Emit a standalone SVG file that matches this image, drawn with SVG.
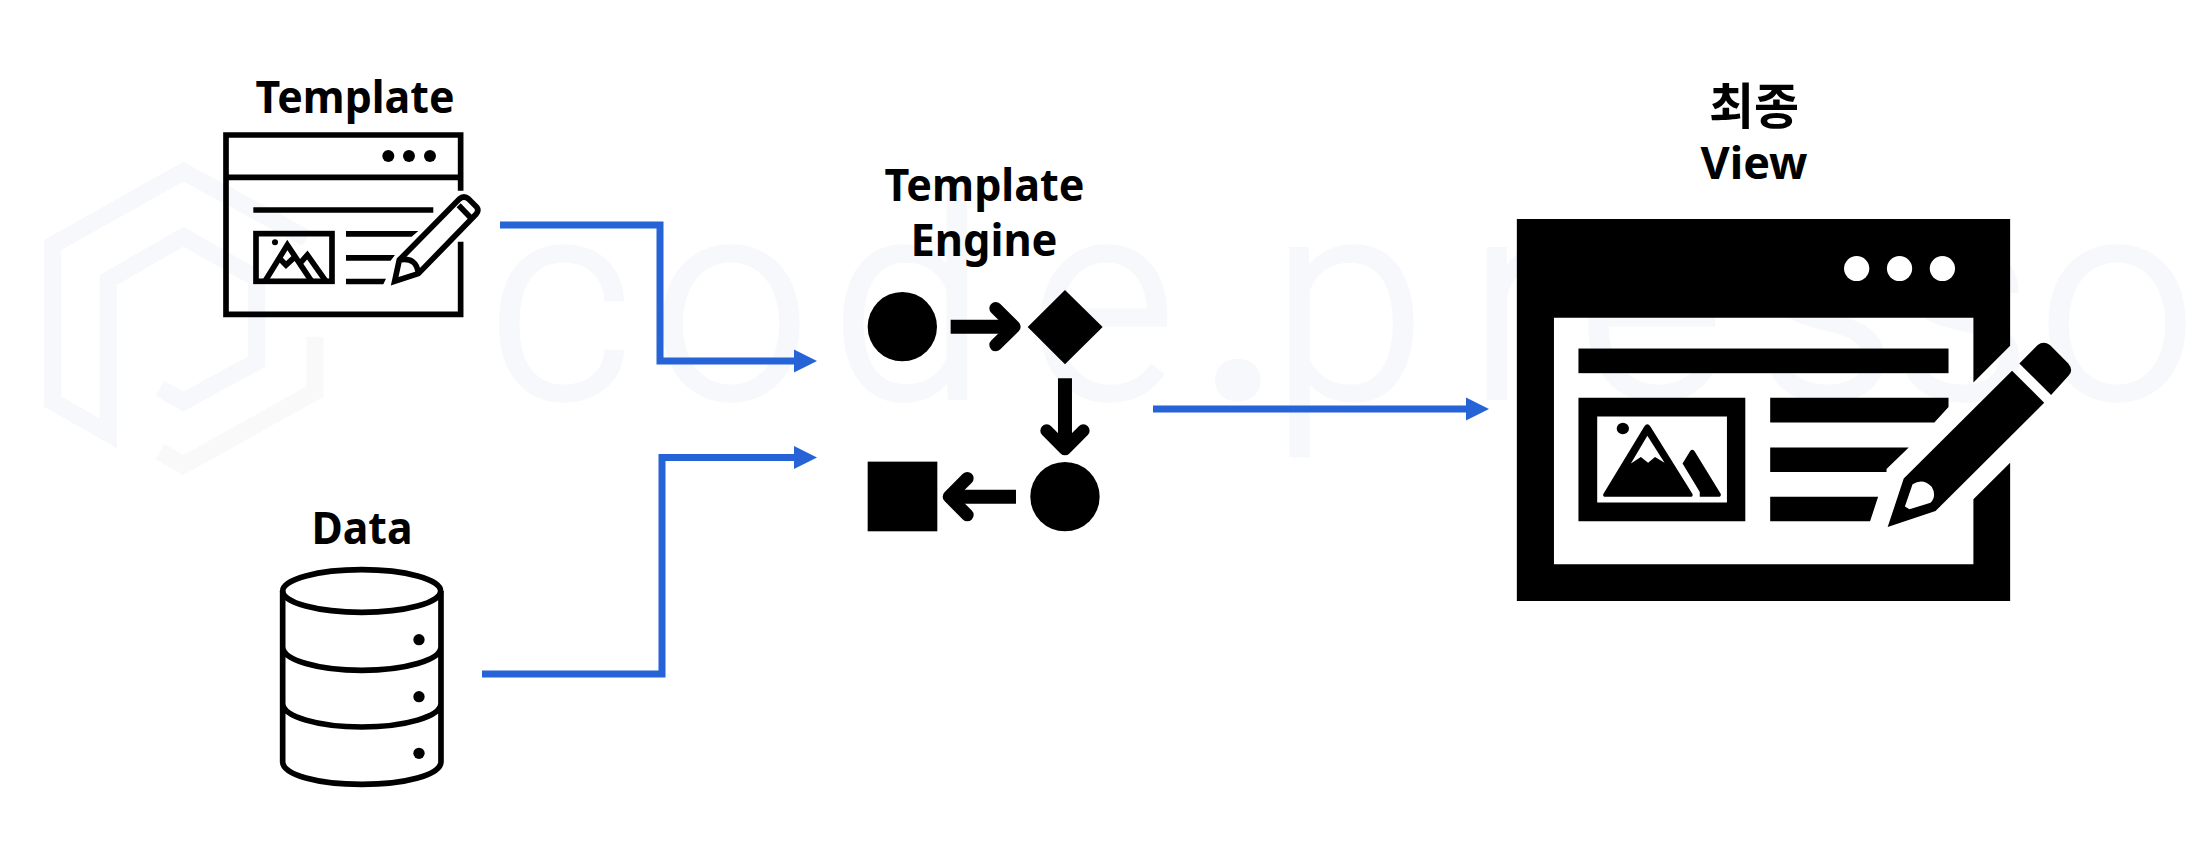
<svg xmlns="http://www.w3.org/2000/svg" width="2210" height="858" viewBox="0 0 2210 858">
<style>
.lbl{font-family:"Noto Sans","Noto Sans CJK KR",sans-serif;font-weight:700;font-size:44px;fill:#000;text-anchor:middle}
.ko{font-family:"Noto Sans CJK KR",sans-serif;font-size:49px}
.wm{font-family:Roboto,sans-serif;font-weight:300;font-size:282px;fill:#f7f8fb;stroke:#f7f8fb;stroke-width:4}
.logo{fill:none;stroke-width:52;stroke-linejoin:miter}
.ol{fill:none;stroke:#000;stroke-width:17}
.conn{fill:none;stroke:#2563d6;stroke-width:7}
.blk{fill:none;stroke:#000;stroke-linecap:round;stroke-linejoin:round}
</style>
<defs>
<marker id="ah" markerUnits="userSpaceOnUse" markerWidth="24" markerHeight="24" refX="1" refY="12" orient="auto"><path d="M0 0.500L23 12L0 23.500Z" fill="#2563d6"/></marker>
</defs>
<rect width="2210" height="858" fill="#fff"/>
<g id="watermark">
<g transform="translate(30 140) scale(.3333)">
<path class="logo" stroke="#f7f8fb" d="M830 295L460 95L68 315V785L235 880V420L460 290L680 415V665L460 785L390 745"/>
<path class="logo" stroke="#f9f9fa" d="M855 590V755L460 975L390 935"/>
</g>
<text class="wm" y="398" x="488 652 830 1030 1199 1270 1467 1578 1755 1890 2038">code<tspan font-weight="600">.</tspan>presso</text>
</g>
<g id="connectors">
<path class="conn" marker-end="url(#ah)" d="M500 225H660V361H795"/>
<path class="conn" marker-end="url(#ah)" d="M482 674H662V457.500H795"/>
<path class="conn" marker-end="url(#ah)" d="M1153 409H1467"/>
</g>
<g id="template">
<text class="lbl" x="355" y="113" textLength="199" lengthAdjust="spacingAndGlyphs">Template</text>
<g transform="translate(200 60) scale(.3333)">
<path class="ol" d="M782 392V225H78V763H782V545M78 352H782M160 450H700"/>
<circle cx="565" cy="288" r="18"/><circle cx="627" cy="288" r="18"/><circle cx="690" cy="288" r="18"/>
<rect class="ol" x="168" y="521" width="228" height="143"/>
<circle cx="225" cy="547" r="9"/>
<path class="ol" stroke-width="14" d="M195 664L262 555L335 664M300 610L322 585L378 664M235 592L258 615L283 592"/>
<path d="M438 513H655L635 530H438ZM438 585H585L572 602H438ZM438 656H558L550 673H438Z"/>
<path class="ol" d="M584 664L598 600L778 417Q792 405 806 417L830 441Q838 452 828 463L655 641ZM776 436L815 476M598 600Q650 590 655 641"/>
</g>
</g>
<g id="data">
<text class="lbl" x="362" y="544" textLength="101" lengthAdjust="spacingAndGlyphs">Data</text>
<g transform="translate(250 490) scale(.3333)">
<ellipse class="ol" cx="335" cy="303" rx="237" ry="64"/>
<path class="ol" d="M98 303V815C98 855 205 883 335 883S573 855 573 815V303M98 470C98 510 205 541 335 541S573 510 573 470M98 640C98 680 205 711 335 711S573 680 573 640"/>
<circle cx="507" cy="449" r="17"/><circle cx="507" cy="620" r="17"/><circle cx="507" cy="790" r="17"/>
</g>
</g>
<g id="engine">
<text class="lbl" x="984.500" y="201" textLength="200" lengthAdjust="spacingAndGlyphs">Template</text>
<text class="lbl" x="984" y="256" textLength="147" lengthAdjust="spacingAndGlyphs">Engine</text>
<g transform="translate(850 150) scale(.3333)">
<circle cx="157" cy="530" r="104"/>
<path d="M645 420L758 531L645 643L533 531Z"/>
<circle cx="645" cy="1040" r="104"/>
<rect x="53" y="935" width="209" height="209"/>
<path d="M302 509H470V551H302ZM624 685H666V880H624ZM498 1019V1061H320V1019Z"/>
<path class="blk" stroke-width="38" d="M437 475L493 530L437 585M590 842L645 897L700 842M352 985L297 1040L352 1095"/>
</g>
</g>
<g id="view">
<text class="lbl ko" x="1754" y="124">최종</text>
<text class="lbl" x="1754" y="179" textLength="107" lengthAdjust="spacingAndGlyphs">View</text>
<g transform="translate(1500 60) scale(.3827 .3571)">
<path d="M44 445H1333V800L1237 903V722H141V1412H1237V1230L1333 1128V1515H44Z"/>
<g fill="#fff"><ellipse cx="932" cy="584" rx="33" ry="35"/><ellipse cx="1044" cy="584" rx="33" ry="35"/><ellipse cx="1156" cy="584" rx="33" ry="35"/></g>
<rect x="205" y="808" width="967" height="69"/>
<path fill-rule="evenodd" d="M205 946H641V1292H205ZM254 998V1239H593V998Z"/>
<circle cx="321" cy="1032" r="16"/>
<path fill-rule="evenodd" d="M377 1026Q385 1014 393 1026L503 1215Q505 1223 497 1223H276Q268 1223 270 1215ZM385 1052L342 1130L368 1112L387 1128L405 1112L430 1128Z"/>
<path d="M497 1095Q502 1088 508 1095L577 1215Q578 1223 570 1223H522V1210L477 1130Z"/>
<path d="M706 946H1172V972L1135 1015H706ZM706 1085H1068L1010 1145V1154H706ZM706 1223H988L967 1292H706Z"/>
<path fill-rule="evenodd" d="M1338 870L1422 960L1138 1263L1013 1308L1055 1172ZM1078 1188Q1105 1170 1128 1195Q1142 1220 1125 1240L1070 1258L1058 1250Z"/>
<path d="M1357 850L1405 798Q1420 785 1437 798L1485 850Q1500 870 1485 885L1440 938Z"/>
</g>
</g>
</svg>
